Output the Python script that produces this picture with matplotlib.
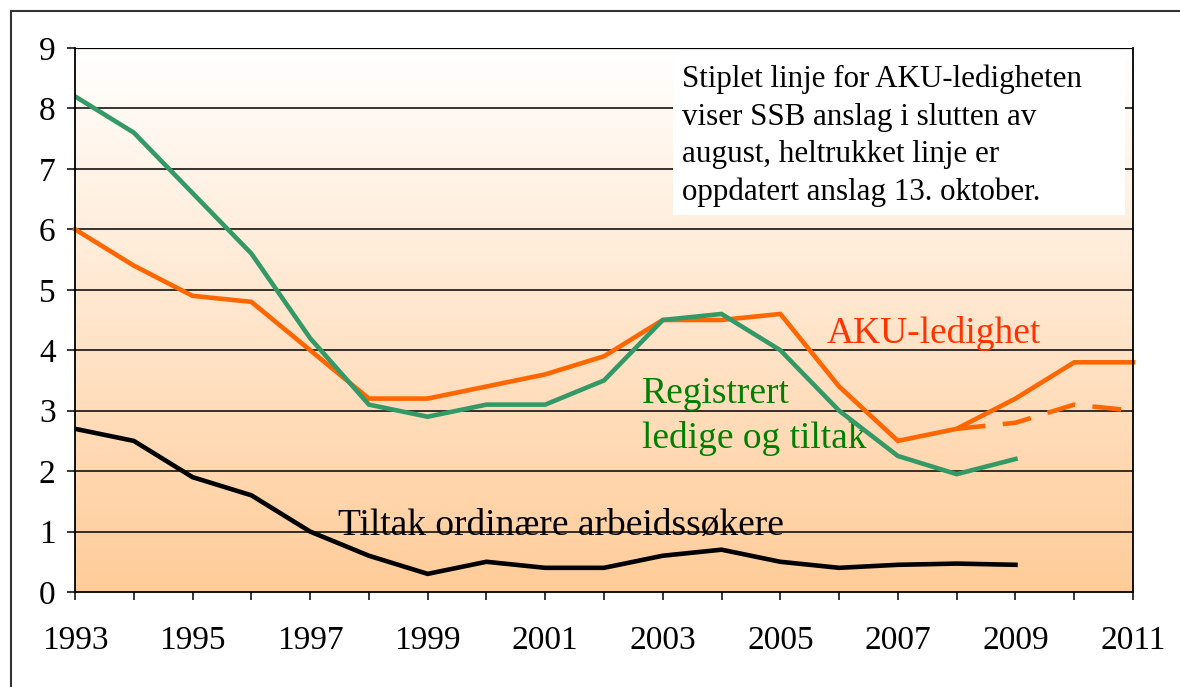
import matplotlib
matplotlib.use("Agg")
import matplotlib.pyplot as plt
import numpy as np
from matplotlib.lines import Line2D
from matplotlib.patches import Rectangle
from matplotlib.colors import LinearSegmentedColormap

# ---------------- data ----------------
years = list(range(1993, 2012))
aku = [6.0, 5.4, 4.9, 4.8, 4.0, 3.2, 3.2, 3.4, 3.6, 3.9, 4.5, 4.5, 4.6, 3.4, 2.5, 2.7, 3.2, 3.8, 3.8]
aku_aug_years = [2008, 2009, 2010, 2011]
aku_aug = [2.7, 2.8, 3.1, 3.0]
reg_years = list(range(1993, 2010))
registrert = [8.2, 7.6, 6.6, 5.6, 4.2, 3.1, 2.9, 3.1, 3.1, 3.5, 4.5, 4.6, 4.0, 3.0, 2.25, 1.95, 2.2]
tiltak = [2.7, 2.5, 1.9, 1.6, 1.0, 0.6, 0.3, 0.5, 0.4, 0.4, 0.6, 0.7, 0.5, 0.4, 0.45, 0.47, 0.45]
yticks = list(range(0, 10))
xticklabels_years = list(range(1993, 2012, 2))

label_aku = "AKU-ledighet"
label_reg = ["Registrert", "ledige og tiltak"]
label_tiltak = "Tiltak ordinære arbeidssøkere"
note_lines = ["Stiplet linje for AKU-ledigheten",
              "viser SSB anslag i slutten av",
              "august, heltrukket linje er",
              "oppdatert anslag 13. oktober."]

# ---------------- figure ----------------
plt.rcParams['font.family'] = ['Liberation Serif', 'DejaVu Serif']
W, H = 1180, 687
fig = plt.figure(figsize=(W / 100, H / 100), dpi=100)
ax = fig.add_axes([75 / W, 1 - 592 / H, (1133 - 75) / W, (592 - 48) / H])

ax.set_xlim(1993, 2011)
ax.set_ylim(0, 9)

# gradient background
cmap = LinearSegmentedColormap.from_list("bg", ["#FFCC99", "#FFFFFF"])
grad = np.linspace(0, 1, 256).reshape(-1, 1)
ax.imshow(grad, extent=[1993, 2011, 0, 9], origin="lower", aspect="auto",
          cmap=cmap, zorder=0)

# gridlines
for yv in yticks[1:]:
    ax.axhline(yv, color="black", lw=1.1 if yv < 9 else 1.6, zorder=1)

# note box
ax.add_patch(Rectangle((2003.17, 6.24), 7.69, 2.69, facecolor="white",
                       edgecolor="none", zorder=2))
for i, line in enumerate(note_lines):
    ax.text(2003.33, 8.355 - i * 0.623, line, fontsize=22.3, va="baseline",
            ha="left", zorder=3, color="black")

# lines
ax.plot(years, aku, color="#FF6600", lw=3.3, zorder=4, clip_on=False,
        solid_joinstyle="miter")
ax.plot(aku_aug_years, aku_aug, color="#FF6600", lw=3.3, zorder=4,
        dashes=(6.3, 3.8), clip_on=False)
ax.plot(reg_years, registrert, color="#339966", lw=3.3, zorder=4,
        solid_joinstyle="miter")
ax.plot(reg_years, tiltak, color="black", lw=3.3, zorder=4,
        solid_joinstyle="miter")

# labels
ax.text(2005.79, 4.12, label_aku, fontsize=27, color="#FF3300",
        va="baseline", ha="left", zorder=3)
ax.text(2002.65, 3.13, label_reg[0], fontsize=27, color="#008000",
        va="baseline", ha="left", zorder=3)
ax.text(2002.65, 2.38, label_reg[1], fontsize=27, color="#008000",
        va="baseline", ha="left", zorder=3)
ax.text(1997.47, 0.94, label_tiltak, fontsize=27, color="black",
        va="baseline", ha="left", zorder=0.5)

# axes styling
ax.spines["top"].set_visible(False)
for s in ["left", "bottom", "right"]:
    ax.spines[s].set_color("black")
    ax.spines[s].set_linewidth(1.3)
    ax.spines[s].set_zorder(5)

ax.set_yticks(yticks)
ax.set_yticklabels([str(v) for v in yticks])
ax.set_xticks(years)
ax.set_xticklabels([str(y) if y in xticklabels_years else "" for y in years])
ax.tick_params(axis="both", direction="out", length=6, width=1.1,
               labelsize=24, color="black")
ax.tick_params(axis="x", pad=18)
ax.tick_params(axis="y", pad=8)

# outer frame (left and top edges)
fig.add_artist(Line2D([11 / W, 11 / W], [0, 1 - 11 / H], color="#333333", lw=1.5))
fig.add_artist(Line2D([11 / W, 1], [1 - 11 / H, 1 - 11 / H], color="#333333", lw=1.5))

fig.savefig("out.png", dpi=100, facecolor="white")
